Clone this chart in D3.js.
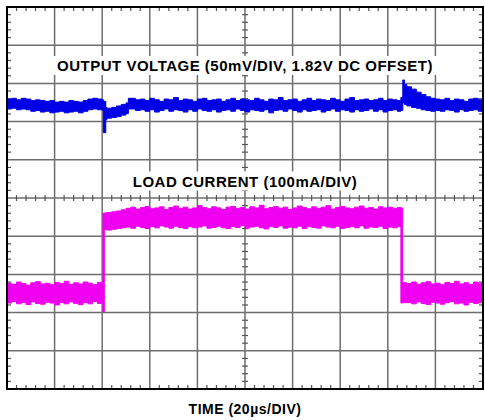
<!DOCTYPE html>
<html>
<head>
<meta charset="utf-8">
<script src="https://cdn.jsdelivr.net/npm/d3@7"></script>
<style>
  body { margin: 0; background: #fff; }
  text { font-family: "Liberation Sans", Arial, sans-serif; font-weight: bold; fill: #000; }
</style>
</head>
<body>
<svg width="485" height="420"></svg>
<script>
// output voltage envelope (mV around 1.82V), time in us
var timeV = [0,2,4,6,8,10,12,14,16,18,20,22,24,26,28,30,32,34,36,38,40,
  40.5,41.5,42,44,46,48,50,51,
  52,54,56,58,60,62,64,66,68,70,72,74,76,78,80,82,84,86,88,90,92,94,96,98,100,
  102,104,106,108,110,112,114,116,118,120,122,124,126,128,130,132,134,136,138,140,
  142,144,146,148,150,152,154,156,158,160,162,164,
  165.5,166.3,167,168,170,172,174,176,178,180,
  182,184,186,188,190,192,194,196,198,200];
var voltHi = [8,9,7,9,8,6,7,6,5,6,4,5,4,6,5,4,6,8,9,8,7,
  5,-3,-4,-3,-1,1,3,9,
  9,7,8,6,9,7,5,8,7,10,6,8,7,5,8,9,6,7,8,5,7,9,6,8,7,6,9,7,5,8,7,10,6,7,8,5,7,9,6,8,
  7,6,9,7,5,8,10,6,7,8,6,7,9,6,8,7,6,
  10,33,27,24,21,17,14,11,9,8,
  7,9,6,8,7,5,8,9,7,6];
var voltLo = [-5,-4,-6,-5,-6,-8,-7,-9,-8,-10,-9,-8,-10,-9,-8,-10,-8,-6,-5,-6,-7,
  -36,-19,-17,-16,-15,-13,-11,-5,
  -5,-7,-6,-8,-6,-9,-7,-5,-8,-6,-7,-9,-6,-8,-5,-7,-8,-6,-9,-7,-6,-8,-5,-7,-9,-6,-7,-8,-6,-10,
  -7,-6,-8,-5,-7,-9,-6,-8,-7,-6,-9,-7,-5,-8,-6,-7,-9,-6,-8,-7,-5,-8,-6,-9,-7,-6,-8,
  -7,3,1,-1,-3,-4,-6,-7,-8,-7,
  -8,-6,-7,-9,-6,-8,-7,-6,-8,-7];

// load current envelope (mA), time in us
var timeI = [0,2,4,6,8,10,12,14,16,18,20,22,24,26,28,30,32,34,36,38,40,
  40.3,40.9,
  42,44,46,48,50,52,54,56,58,60,62,64,66,68,70,72,74,76,78,80,82,84,86,88,90,92,94,96,98,100,
  102,104,106,108,110,112,114,116,118,120,122,124,126,128,130,132,134,136,138,140,
  142,144,146,148,150,152,154,156,158,160,162,164,
  165.5,166.2,
  168,170,172,174,176,178,180,182,184,186,188,190,192,194,196,198,200];
var currHi = [27,24,30,26,22,28,31,25,27,23,29,26,32,24,28,25,30,27,23,29,26,
  210,211,
  212,214,216,219,223,226,221,225,228,222,224,227,220,225,229,223,226,221,224,230,
  225,222,227,224,220,226,228,223,225,221,227,224,231,222,225,228,223,226,220,224,
  229,225,222,227,223,226,230,221,225,228,224,222,226,229,223,225,221,227,224,226,223,225,
  224,28,
  26,30,24,28,31,25,27,23,29,26,32,25,28,24,30,27,26];
var currLo = [-25,-21,-27,-24,-29,-22,-26,-28,-23,-25,-30,-24,-27,-22,-26,-29,-24,-27,-21,-26,-24,
  -48,167,
  166,168,170,172,174,171,176,173,170,175,172,177,174,171,176,173,170,175,172,174,
  177,171,173,176,172,170,175,173,178,171,174,176,172,169,175,173,177,171,174,172,
  176,170,175,173,171,177,174,172,176,170,173,175,172,177,171,174,173,176,170,174,172,175,
  -25,-24,
  -24,-27,-22,-26,-29,-23,-25,-28,-24,-21,-27,-25,-30,-23,-26,-24,-25];

var titleV = "OUTPUT VOLTAGE (50mV/DIV, 1.82V DC OFFSET)",
    titleI = "LOAD CURRENT (100mA/DIV)",
    titleX = "TIME (20\u00b5s/DIV)";

var svg = d3.select("svg"),
    margin = {top: 7, right: 2, bottom: 31, left: 7},
    width = 485 - margin.left - margin.right,
    height = 420 - margin.top - margin.bottom,
    g = svg.append("g").attr("transform", "translate(" + margin.left + "," + margin.top + ")");

// 10 x 10 divisions
var x = d3.scaleLinear().domain([0, 200]).range([0, width]),
    y = d3.scaleLinear().domain([-5, 5]).range([height, 0]);

// channel positions in divisions and scale per division
var posV = 2.43, perDivV = 50,
    posI = -2.5, perDivI = 100;

// grid
g.append("g").selectAll("line")
  .data(d3.range(20, 200, 20))
  .enter().append("line")
  .attr("x1", function(d) { return x(d); }).attr("x2", function(d) { return x(d); })
  .attr("y1", 0).attr("y2", height)
  .attr("stroke", "#6e6e6e").attr("stroke-width", 1.5);

g.append("g").selectAll("line")
  .data(d3.range(-4, 5, 1))
  .enter().append("line")
  .attr("y1", function(d) { return y(d); }).attr("y2", function(d) { return y(d); })
  .attr("x1", 0).attr("x2", width)
  .attr("stroke", "#6e6e6e").attr("stroke-width", 1.5);

// minor ticks on the frame and the centre lines
var minorX = d3.range(4, 200, 4).filter(function(d) { return d % 20 !== 0; }),
    minorY = d3.range(-48, 50, 2).map(function(d) { return d / 10; }).filter(function(d) { return Math.abs(d * 10) % 10 !== 0; });
var ticks = g.append("g").attr("stroke", "#555").attr("stroke-width", 1.2);
minorX.forEach(function(d) {
  ticks.append("line").attr("x1", x(d)).attr("x2", x(d)).attr("y1", 0).attr("y2", 4);
  ticks.append("line").attr("x1", x(d)).attr("x2", x(d)).attr("y1", height - 4).attr("y2", height);
  ticks.append("line").attr("x1", x(d)).attr("x2", x(d)).attr("y1", y(0) - 3).attr("y2", y(0) + 3);
});
minorY.forEach(function(d) {
  ticks.append("line").attr("y1", y(d)).attr("y2", y(d)).attr("x1", 0).attr("x2", 4);
  ticks.append("line").attr("y1", y(d)).attr("y2", y(d)).attr("x1", width - 4).attr("x2", width);
  ticks.append("line").attr("y1", y(d)).attr("y2", y(d)).attr("x1", x(100) - 3).attr("x2", x(100) + 3);
});

// traces as noise envelopes
var voltData = timeV.map(function(t, i) { return {t: t, hi: voltHi[i], lo: voltLo[i]}; }),
    currData = timeI.map(function(t, i) { return {t: t, hi: currHi[i], lo: currLo[i]}; });

var areaV = d3.area()
  .curve(d3.curveStepAfter)
  .x(function(d) { return x(d.t); })
  .y0(function(d) { return y(posV + d.lo / perDivV); })
  .y1(function(d) { return y(posV + d.hi / perDivV); });

var areaI = d3.area()
  .curve(d3.curveStepAfter)
  .x(function(d) { return x(d.t); })
  .y0(function(d) { return y(posI + d.lo / perDivI); })
  .y1(function(d) { return y(posI + d.hi / perDivI); });

g.append("path").datum(currData)
  .attr("d", areaI)
  .attr("fill", "#f000f0").attr("stroke", "#f000f0").attr("stroke-width", 1);

g.append("path").datum(voltData)
  .attr("d", areaV)
  .attr("fill", "#0000e6").attr("stroke", "#0000e6").attr("stroke-width", 1);

// frame
g.append("rect")
  .attr("width", width).attr("height", height)
  .attr("fill", "none").attr("stroke", "#000").attr("stroke-width", 2);

// labels with white boxes
function label(txt, cx, by, size) {
  var t = g.append("text")
    .attr("x", cx).attr("y", by)
    .attr("text-anchor", "middle")
    .style("font-size", size + "px")
    .style("letter-spacing", "0.5px")
    .text(txt);
  var b = t.node().getBBox();
  g.insert("rect", function() { return t.node(); })
    .attr("x", b.x - 4).attr("y", b.y - 1)
    .attr("width", b.width + 8).attr("height", b.height + 2)
    .attr("fill", "#fff");
}
label(titleV, width / 2, 64, 15);
label(titleI, width / 2, 179.5, 15);
label(titleX, width / 2, 406.5, 14);
</script>
</body>
</html>
